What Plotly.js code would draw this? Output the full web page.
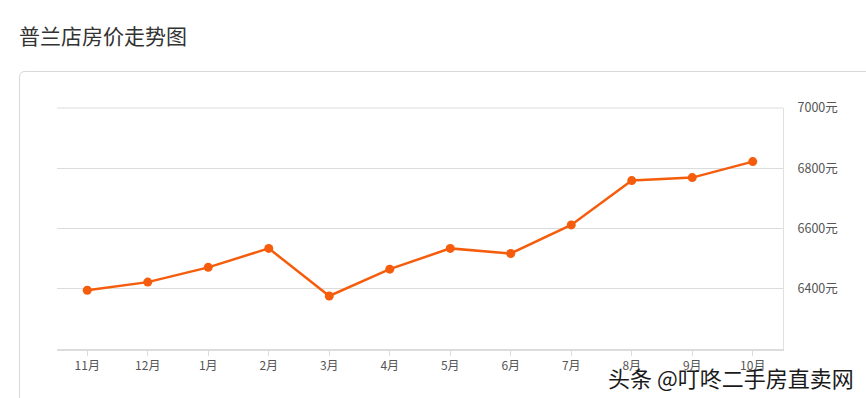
<!DOCTYPE html>
<html><head><meta charset="utf-8">
<script src="https://cdn.plot.ly/plotly-3.0.1.min.js"></script>
<style>html,body{margin:0;padding:0;background:#fff;}#chart{width:866px;height:398px;}</style>
</head><body><div id="chart"></div>
<script>
const months = ['11月','12月','1月','2月','3月','4月','5月','6月','7月','8月','9月','10月'];
const prices = [6395, 6422, 6471, 6534, 6376, 6465, 6534, 6517, 6612, 6759, 6769, 6822];
const yTicks = [6400, 6600, 6800, 7000];
const yTickLabels = ['6400元', '6600元', '6800元', '7000元'];
const titleText = '普兰店房价走势图';
const watermark = '头条 @叮咚二手房直卖网';

const W = 866, H = 398, L = 57, R = 83, T = 108, B = 49;
const pw = W - L - R, ph = H - T - B;
const px = x => (x - L) / pw;
const py = y => (H - B - y) / ph;

const cardPath = `M ${px(19.5)} ${py(420)} L ${px(19.5)} ${py(77)} Q ${px(19.5)} ${py(71.5)} ${px(25)} ${py(71.5)} L ${px(880)} ${py(71.5)}`;

const font = '"Noto Sans CJK SC", "Noto Sans", sans-serif';

Plotly.newPlot('chart', [{
  x: months, y: prices, type: 'scatter', mode: 'lines+markers',
  line: {color: '#f55d0d', width: 2.5},
  marker: {color: '#f55d0d', size: 9},
  hoverinfo: 'x+y'
}], {
  width: W, height: H,
  margin: {l: L, r: R, t: T, b: B, pad: 0},
  paper_bgcolor: '#fff', plot_bgcolor: '#fff',
  showlegend: false,
  title: {text: titleText, x: 19 / W, xref: 'container', xanchor: 'left',
          y: 1 - 37 / H, yref: 'container', yanchor: 'middle',
          font: {family: font, size: 21, color: '#333'}},
  xaxis: {type: 'category', range: [-0.5, 11.5], showgrid: false, zeroline: false,
          showline: true, linecolor: '#dcdcdc', linewidth: 2,
          ticks: 'outside', ticklen: 5, tickcolor: '#dcdcdc', tickwidth: 1,
          tickfont: {family: font, size: 12, color: '#555'}, fixedrange: true},
  yaxis: {side: 'right', range: [6200, 7000], tickvals: yTicks, ticktext: yTickLabels,
          showgrid: true, gridcolor: '#dcdcdc', gridwidth: 1, zeroline: false,
          showline: true, linecolor: '#e0e0e0', linewidth: 1, ticks: '', ticklabelstandoff: 11,
          tickfont: {family: font, size: 12.5, color: '#555'}, fixedrange: true},
  shapes: [{type: 'path', xref: 'paper', yref: 'paper', path: cardPath,
            line: {color: '#d8d8d8', width: 1}, layer: 'below'},
           {type: 'line', xref: 'paper', yref: 'paper', x0: 0, x1: 1, y0: 1, y1: 1,
            line: {color: '#dcdcdc', width: 1}, layer: 'below'}],
  annotations: [{text: watermark, xref: 'paper', yref: 'paper', x: px(606), y: py(377),
                 xanchor: 'left', yanchor: 'middle', showarrow: false,
                 font: {family: font, size: 22, color: '#1a1a1a'}}]
}, {displayModeBar: false, staticPlot: true});
</script>
</body></html>
